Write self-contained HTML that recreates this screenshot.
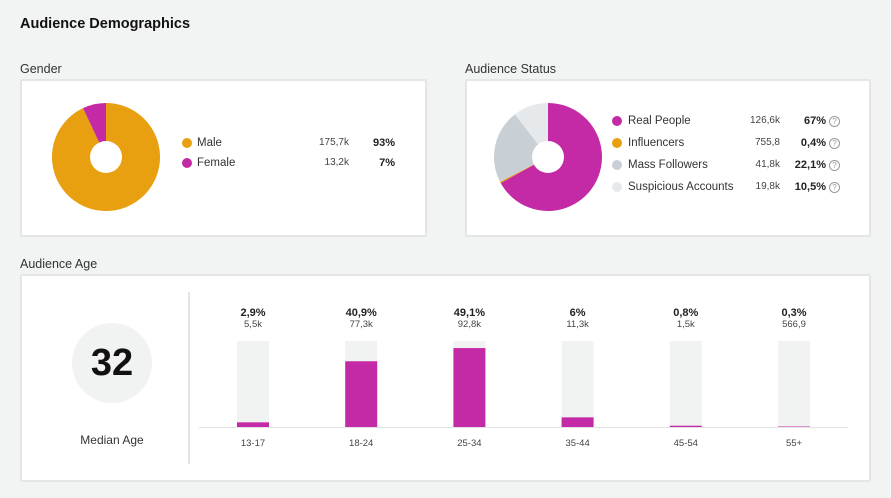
<!DOCTYPE html>
<html><head><meta charset="utf-8">
<style>
body{margin:0;width:891px;height:498px;background:#f2f3f3;font-family:"Liberation Sans",sans-serif;position:relative;overflow:hidden;color:#222}
.abs{position:absolute}
.card{position:absolute;background:#fff;border:2px solid #e4e6e6;box-sizing:border-box;border-radius:2px}
.h{position:absolute;font-size:12.5px;color:#333}
.lg{position:absolute;font-size:11.5px;color:#333;white-space:nowrap}
.dot{position:absolute;width:10px;height:10px;border-radius:50%}
.num{position:absolute;font-size:10px;color:#444;text-align:right;width:60px}
.pct{position:absolute;font-size:11px;font-weight:bold;text-align:right;width:50px}
.q{position:absolute;width:9px;height:9px;border:1px solid #999;border-radius:50%;font-size:8px;line-height:9px;text-align:center;color:#999}
</style></head><body>
<div class="abs" style="left:20px;top:16px;font-size:14.5px;font-weight:bold;color:#111">Audience Demographics</div>
<div class="h" style="left:20px;top:62px">Gender</div>
<div class="h" style="left:465px;top:62px">Audience Status</div>
<div class="h" style="left:20px;top:257px">Audience Age</div>

<div class="card" style="left:20px;top:79px;width:407px;height:158px"></div>
<div class="card" style="left:465px;top:79px;width:406px;height:158px"></div>
<div class="card" style="left:20px;top:274px;width:851px;height:208px"></div>

<svg class="abs" id="pies" style="left:0;top:0" width="891" height="498"></svg>
<div id="legends"></div>

<div class="abs" style="left:72px;top:323px;width:80px;height:80px;border-radius:50%;background:#f1f2f2;font-size:38px;font-weight:bold;line-height:80px;text-align:center;color:#111">32</div>
<div class="abs" style="left:62px;top:433px;width:100px;text-align:center;font-size:12px;color:#333">Median Age</div>
<div class="abs" style="left:188px;top:292px;width:2px;height:172px;background:#e4e6e6"></div>
<svg class="abs" id="bars" style="left:0;top:0" width="891" height="498"></svg>

<script>
const genderLabels=["Male","Female"];
const genderCounts=["175,7k","13,2k"];
const genderPcts=[93,7];
const statusLabels=["Real People","Influencers","Mass Followers","Suspicious Accounts"];
const statusCounts=["126,6k","755,8","41,8k","19,8k"];
const statusPcts=[67,0.4,22.1,10.5];
const statusPctLabels=["67%","0,4%","22,1%","10,5%"];
const ageCats=["13-17","18-24","25-34","35-44","45-54","55+"];
const agePcts=[2.9,40.9,49.1,6,0.8,0.3];
const agePctLabels=["2,9%","40,9%","49,1%","6%","0,8%","0,3%"];
const ageCounts=["5,5k","77,3k","92,8k","11,3k","1,5k","566,9"];

const NS="http://www.w3.org/2000/svg";
function slicePath(cx,cy,r,a0,a1){
  const x0=cx+r*Math.sin(a0),y0=cy-r*Math.cos(a0),x1=cx+r*Math.sin(a1),y1=cy-r*Math.cos(a1);
  const large=Math.abs(a1-a0)>Math.PI?1:0, sweep=a1>a0?1:0;
  return `M${cx},${cy}L${x0},${y0}A${r},${r} 0 ${large} ${sweep} ${x1},${y1}Z`;
}
function pie(svg,cx,cy,r,vals,colors,dir,name){
  const tot=vals.reduce((a,b)=>a+b,0);let a=0;
  vals.forEach((v,i)=>{const b=a+dir*v/tot*2*Math.PI;
    const p=document.createElementNS(NS,"path");p.setAttribute("d",slicePath(cx,cy,r,a,b));p.setAttribute("fill",colors[i]);
    
    
    svg.appendChild(p);a=b;});
  const c=document.createElementNS(NS,"circle");c.setAttribute("cx",cx);c.setAttribute("cy",cy);c.setAttribute("r",16);c.setAttribute("fill","#fff");
  
  
  svg.appendChild(c);
}
const pies=document.getElementById("pies");
const gCol=["#e8a010","#c42aa5"],sCol=["#c42aa5","#e8a010","#c9d0d5","#e6e9ec"];
pie(pies,106,157,54,genderPcts,gCol,1,"gender");
pie(pies,548,157,54,statusPcts,sCol,1,"status");

const L=document.getElementById("legends");
function add(html){L.insertAdjacentHTML("beforeend",html);}
genderLabels.forEach((l,i)=>{const y=143+i*20;
  add(`<div class="dot" style="left:182px;top:${y-5}px;background:${gCol[i]}"></div>
  <div class="lg" style="left:197px;top:${y-6}px">${l}</div>
  <div class="num" style="left:289px;top:${y-6}px">${genderCounts[i]}</div>
  <div class="pct" style="left:345px;top:${y-6}px">${genderPcts[i]}%</div>`);});
statusLabels.forEach((l,i)=>{const y=121+i*22;
  add(`<div class="dot" style="left:612px;top:${y-5}px;background:${sCol[i]}"></div>
  <div class="lg" style="left:628px;top:${y-6}px">${l}</div>
  <div class="num" style="left:720px;top:${y-6}px">${statusCounts[i]}</div>
  <div class="pct" style="left:776px;top:${y-6}px">${statusPctLabels[i]}</div>
  <div class="q" style="left:829px;top:${y-5}px">?</div>`);});

const bars=document.getElementById("bars");
const x0=253,step=108.2,base=427,trackH=86,maxPct=53.5,bw=32;
const xs=i=>x0+i*step, hs=v=>v/maxPct*trackH;
function el(tag,attrs,txt){const e=document.createElementNS(NS,tag);for(const k in attrs)e.setAttribute(k,attrs[k]);if(txt!=null)e.textContent=txt;bars.appendChild(e);return e;}
let ax=el("line",{x1:199,x2:848,y1:base+0.5,y2:base+0.5,stroke:"#e2e4e4","stroke-width":1});


ageCats.forEach((c,i)=>{const x=xs(i),h=hs(agePcts[i]);
  let t=el("rect",{x:x-bw/2,y:base-trackH,width:bw,height:trackH,fill:"#f1f2f2"});
  
  
  let b=el("rect",{x:x-bw/2,y:base-h,width:bw,height:h,fill:"#c42aa5"});
  
  
  let p=el("text",{x:x,y:316,"text-anchor":"middle","font-size":11,"font-weight":"bold",fill:"#222","font-family":"Liberation Sans"},agePctLabels[i]);
  
  
  let n=el("text",{x:x,y:327,"text-anchor":"middle","font-size":9.5,fill:"#444","font-family":"Liberation Sans"},ageCounts[i]);
  
  
  let k=el("text",{x:x,y:446,"text-anchor":"middle","font-size":9.5,fill:"#444","font-family":"Liberation Sans"},c);
  
  
});
</script>
</body></html>
